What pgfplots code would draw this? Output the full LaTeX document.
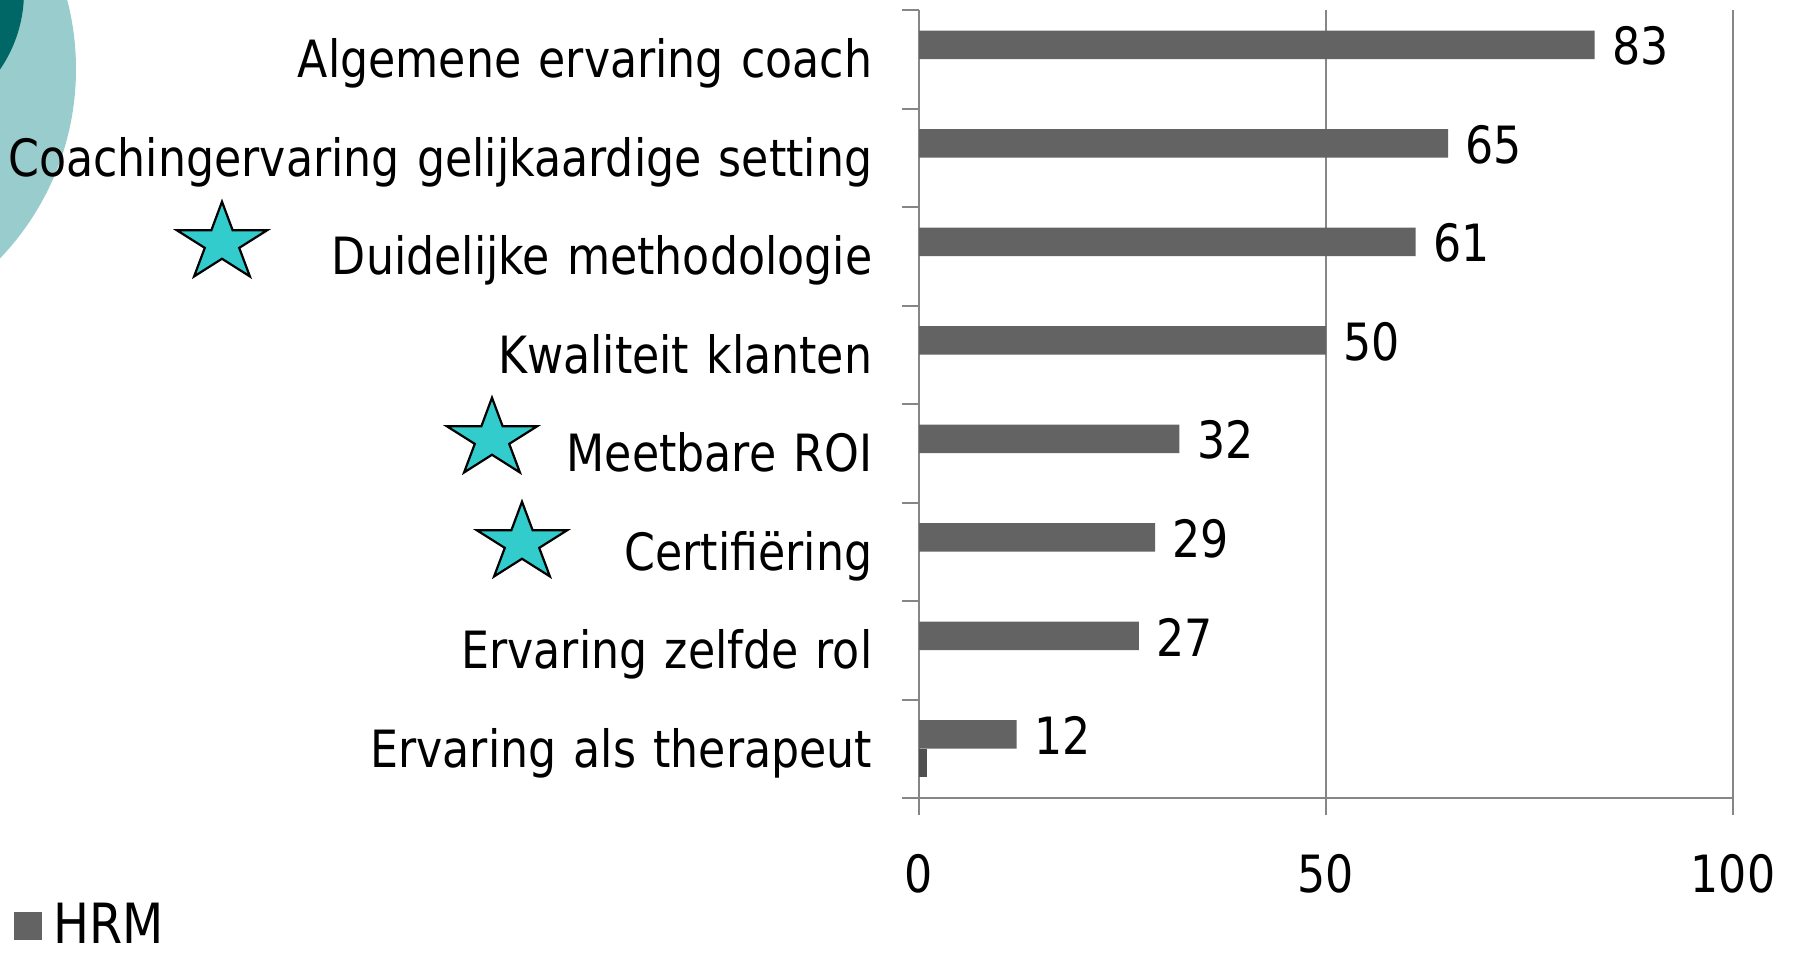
\documentclass[border=0pt]{standalone}
\usepackage{pgfplots}
\pgfplotsset{compat=1.18}
\usepackage{fontspec}
\setmainfont[WordSpace=1.22]{DejaVu Sans}
\definecolor{barcol}{HTML}{636363}
\definecolor{bartwo}{HTML}{505050}
\definecolor{gridcol}{HTML}{868686}
\definecolor{tealL}{HTML}{99CCCC}
\definecolor{tealD}{HTML}{006666}
\definecolor{starcol}{HTML}{33CCCC}
\newcommand{\mystar}[2]{%
  \draw[fill=starcol, draw=black, line width=0.22mm, line join=miter, shift={(#1,#2)}, yscale=0.87]
  (90:4.75mm) -- (126:1.81mm) -- (162:4.75mm) -- (198:1.81mm) -- (234:4.75mm) -- (270:1.81mm)
  -- (306:4.75mm) -- (342:1.81mm) -- (18:4.75mm) -- (54:1.81mm) -- cycle;}
\begin{document}
\begin{tikzpicture}
\useasboundingbox (0,0) rectangle (179.6mm,95.4mm);
\begin{scope}
\clip (0,0) rectangle (179.6mm,95.4mm);
\fill[tealL] (-19.8mm,88.5mm) circle (27.4mm);
\fill[tealD] (-11.3mm,96.2mm) circle (13.7mm);
\end{scope}
\begin{axis}[
  at={(91.9mm,15.6mm)}, anchor=south west,
  width=81.4mm, height=78.8mm, scale only axis,
  xmin=0, xmax=100, ymin=0.5, ymax=8.5,
  xtick={0,50,100},
  ytick={0.5,1.5,...,8.5},
  y tick label as interval,
  yticklabels={Ervaring als therapeut, Ervaring zelfde rol, Certifiëring, Meetbare ROI, Kwaliteit klanten, Duidelijke methodologie, Coachingervaring gelijkaardige setting, Algemene ervaring coach},
  axis x line*=bottom, axis y line*=left,
  axis line style={gridcol, line width=0.2mm},
  tick align=outside, major tick length=1.7mm,
  tick style={gridcol, line width=0.2mm},
  xmajorgrids=true,
  grid style={gridcol, line width=0.2mm},
  /pgf/number format/assume math mode=true,
  every tick label/.append style={font=\fontsize{12.6}{15}\selectfont, yscale=1.16, inner sep=0pt},
  yticklabel style={anchor=base east, xshift=-2.9mm, yshift=-1.6mm},
  xticklabel style={anchor=center, yshift=-5.1mm},
  legend style={at={(-1.113,-0.1942)}, anchor=south west, draw=none, fill=none, inner sep=0pt,
    nodes={inner sep=0.5pt},
    font=\fontsize{13.6}{16}\selectfont, cells={anchor=west}},
  legend image code/.code={\fill[barcol] (0mm,-1.4mm) rectangle (2.8mm,1.4mm);},
]
\addplot[xbar, bar width=2.85mm, bar shift=1.43mm, fill=barcol, draw=none,
  nodes near coords,
  nodes near coords style={anchor=west, inner sep=0pt, xshift=1.7mm, yshift=1.3mm, black,
    font=\fontsize{12.6}{15}\selectfont, yscale=1.16}]
  coordinates {(12,1) (27,2) (29,3) (32,4) (50,5) (61,6) (65,7) (83,8)};
\addlegendentry{\hspace*{1.0mm}\scalebox{1}[1.16]{HRM}}
\addplot[xbar, bar width=2.85mm, bar shift=-1.43mm, fill=bartwo, draw=none, forget plot]
  coordinates {(1,1)};
\end{axis}
\mystar{22.2mm}{71.1mm}
\mystar{49.2mm}{51.5mm}
\mystar{52.2mm}{41.1mm}
\end{tikzpicture}
\end{document}
